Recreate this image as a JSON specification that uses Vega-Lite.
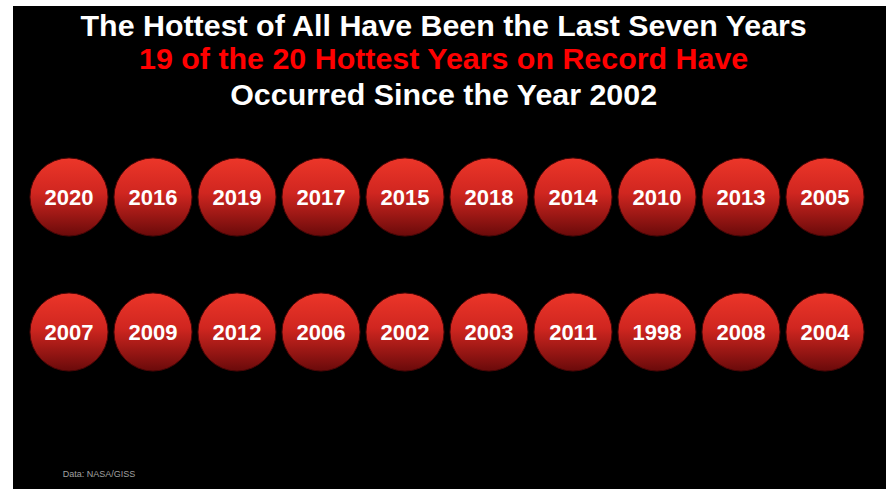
{
  "$schema": "https://vega.github.io/schema/vega-lite/v6.json",
  "width": 886,
  "height": 489,
  "autosize": {"type": "fit", "contains": "padding"},
  "padding": {"left": 13, "top": 6, "right": 0, "bottom": 0},
  "background": "#ffffff",
  "view": {"fill": "#000000", "stroke": null},
  "config": {"font": "Liberation Sans"},
  "datasets": {
    "years": [
      {"rank": 1, "year": "2020", "col": 0, "row": 0},
      {"rank": 2, "year": "2016", "col": 1, "row": 0},
      {"rank": 3, "year": "2019", "col": 2, "row": 0},
      {"rank": 4, "year": "2017", "col": 3, "row": 0},
      {"rank": 5, "year": "2015", "col": 4, "row": 0},
      {"rank": 6, "year": "2018", "col": 5, "row": 0},
      {"rank": 7, "year": "2014", "col": 6, "row": 0},
      {"rank": 8, "year": "2010", "col": 7, "row": 0},
      {"rank": 9, "year": "2013", "col": 8, "row": 0},
      {"rank": 10, "year": "2005", "col": 9, "row": 0},
      {"rank": 11, "year": "2007", "col": 0, "row": 1},
      {"rank": 12, "year": "2009", "col": 1, "row": 1},
      {"rank": 13, "year": "2012", "col": 2, "row": 1},
      {"rank": 14, "year": "2006", "col": 3, "row": 1},
      {"rank": 15, "year": "2002", "col": 4, "row": 1},
      {"rank": 16, "year": "2003", "col": 5, "row": 1},
      {"rank": 17, "year": "2011", "col": 6, "row": 1},
      {"rank": 18, "year": "1998", "col": 7, "row": 1},
      {"rank": 19, "year": "2008", "col": 8, "row": 1},
      {"rank": 20, "year": "2004", "col": 9, "row": 1}
    ],
    "headline": [
      {"line": "a", "text": "The Hottest of All Have Been the Last Seven Years", "col": 4.46, "row": -1.1926},
      {"line": "b", "text": "19 of the 20 Hottest Years on Record Have", "col": 4.46, "row": -0.948},
      {"line": "c", "text": "Occurred Since the Year 2002", "col": 4.46, "row": -0.6815}
    ],
    "note": [
      {"text": "Data: NASA/GISS", "col": -0.075, "row": 2.0741}
    ]
  },
  "encoding": {
    "x": {"field": "col", "type": "quantitative", "scale": {"domain": [-0.6667, 9.7262], "nice": false, "zero": false}, "axis": null},
    "y": {"field": "row", "type": "quantitative", "scale": {"domain": [-1.4148, 2.163], "nice": false, "zero": false, "reverse": true}, "axis": null}
  },
  "layer": [
    {
      "data": {"name": "years"},
      "mark": {
        "type": "point",
        "shape": "circle",
        "filled": true,
        "size": 6100,
        "opacity": 1,
        "fill": {
          "gradient": "linear",
          "x1": 0, "y1": 0, "x2": 0, "y2": 1,
          "stops": [
            {"offset": 0, "color": "#ec3629"},
            {"offset": 0.45, "color": "#d02620"},
            {"offset": 1, "color": "#6a0a0a"}
          ]
        },
        "stroke": "#4a0606",
        "strokeWidth": 1
      }
    },
    {
      "data": {"name": "years"},
      "mark": {"type": "text", "color": "#ffffff", "fontSize": 22, "fontWeight": "bold", "baseline": "alphabetic", "align": "center", "dy": 8},
      "encoding": {"text": {"field": "year", "type": "nominal"}}
    },
    {
      "data": {"name": "headline"},
      "mark": {"type": "text", "fontSize": 30.4, "fontWeight": "bold", "baseline": "alphabetic", "align": "center"},
      "encoding": {
        "text": {"field": "text", "type": "nominal"},
        "color": {"field": "line", "type": "nominal", "scale": {"domain": ["a", "b", "c"], "range": ["#ffffff", "#ff0000", "#ffffff"]}, "legend": null}
      }
    },
    {
      "data": {"name": "note"},
      "mark": {"type": "text", "fontSize": 9, "color": "#a0a0a0", "baseline": "alphabetic", "align": "left"},
      "encoding": {"text": {"field": "text", "type": "nominal"}}
    }
  ]
}
